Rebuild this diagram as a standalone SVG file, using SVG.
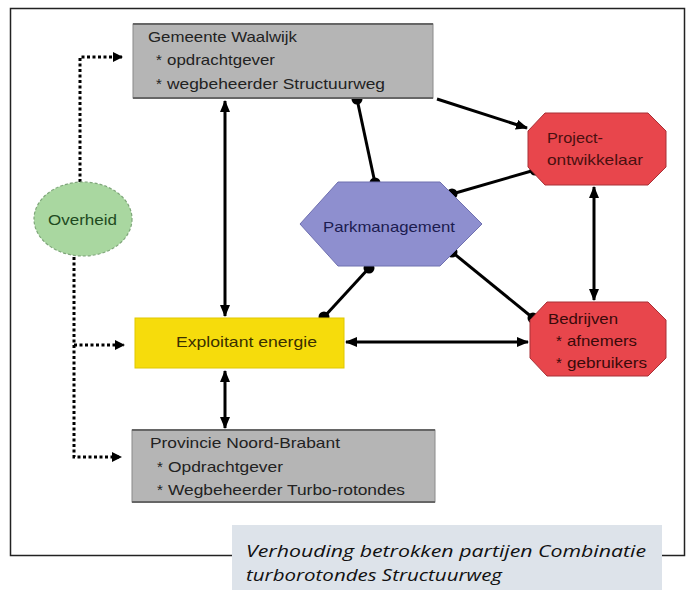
<svg xmlns="http://www.w3.org/2000/svg" width="689" height="593" viewBox="0 0 689 593">
<defs>
<style>
.t{font-family:"Liberation Sans",Arial,sans-serif;font-size:15px;fill:#222}
.ln{stroke:#000;stroke-width:3;fill:none}
.dot{stroke:#000;stroke-width:3;fill:none;stroke-dasharray:3 2.5}
.cap{font-family:"Open Sans","Noto Sans",sans-serif;font-style:italic;font-size:17px;fill:#111}
</style>
<marker id="ah" viewBox="0 0 12 10" refX="11" refY="5" markerWidth="12" markerHeight="10" markerUnits="userSpaceOnUse" orient="auto-start-reverse">
<path d="M0,0 L12,5 L0,10 Z" fill="#000"/>
</marker>
<marker id="ahs" viewBox="0 0 10 10" refX="9" refY="5" markerWidth="10" markerHeight="10" markerUnits="userSpaceOnUse" orient="auto">
<path d="M0,0 L10,5 L0,10 Z" fill="#000"/>
</marker>
<marker id="bd" viewBox="0 0 12 12" refX="6" refY="6" markerWidth="12" markerHeight="12" markerUnits="userSpaceOnUse">
<circle cx="6" cy="6" r="5.5" fill="#000"/>
</marker>
</defs>
<rect x="0" y="0" width="689" height="593" fill="#fff"/>
<rect x="10.5" y="8.5" width="674" height="547" fill="none" stroke="#222" stroke-width="1.5"/>

<g id="connectors">
<polyline class="dot" points="80,182 80,57 122,57" marker-end="url(#ahs)"/>
<polyline class="dot" points="74,257 74,457 121,457" marker-end="url(#ahs)"/>
<line class="dot" x1="74" y1="345" x2="124" y2="345" marker-end="url(#ahs)"/>
<line class="ln" x1="225" y1="101" x2="225" y2="316" marker-start="url(#ah)" marker-end="url(#ah)"/>
<line class="ln" x1="225" y1="371" x2="225" y2="428" marker-start="url(#ah)" marker-end="url(#ah)"/>
<line class="ln" x1="437" y1="99" x2="527" y2="128" marker-end="url(#ah)"/>
<line class="ln" x1="594" y1="187" x2="594" y2="300" marker-start="url(#ah)" marker-end="url(#ah)"/>
<line class="ln" x1="346" y1="342" x2="528" y2="342" marker-start="url(#ah)" marker-end="url(#ah)"/>
<line class="ln" x1="357" y1="99" x2="375" y2="183" marker-start="url(#bd)" marker-end="url(#bd)"/>
<line class="ln" x1="452" y1="194" x2="535" y2="170" marker-start="url(#bd)" marker-end="url(#bd)"/>
<line class="ln" x1="369" y1="268" x2="324" y2="317" marker-start="url(#bd)" marker-end="url(#bd)"/>
<line class="ln" x1="452" y1="252" x2="533" y2="318" marker-start="url(#bd)" marker-end="url(#bd)"/>
</g>

<g id="gemeente">
<rect x="133" y="24" width="300" height="74" fill="#b5b5b5" stroke="#8a8a8a" stroke-width="1"/>
<line x1="133" y1="24" x2="433" y2="24" stroke="#666" stroke-width="2"/>
<line x1="133" y1="98" x2="433" y2="98" stroke="#666" stroke-width="2"/>
<text class="t" x="148" y="42" textLength="149" lengthAdjust="spacingAndGlyphs">Gemeente Waalwijk</text>
<text class="t" x="156" y="65">*</text>
<text class="t" x="167" y="65" textLength="108" lengthAdjust="spacingAndGlyphs">opdrachtgever</text>
<text class="t" x="156" y="89">*</text>
<text class="t" x="167" y="89" textLength="218" lengthAdjust="spacingAndGlyphs">wegbeheerder Structuurweg</text>
</g>

<g id="overheid">
<ellipse cx="83" cy="219" rx="49" ry="37" fill="#a9d7a0" stroke="#7fa67a" stroke-width="1.2" stroke-dasharray="3 2"/>
<text class="t" x="48" y="225" textLength="69" lengthAdjust="spacingAndGlyphs" style="fill:#1e4a1e">Overheid</text>
</g>

<g id="parkmanagement">
<polygon points="338,182 440,182 482,224 440,266 338,266 300,224" fill="#8e8fcf" stroke="#6f70b0" stroke-width="1"/>
<text class="t" x="323" y="232" textLength="132" lengthAdjust="spacingAndGlyphs" style="fill:#1c1c50">Parkmanagement</text>
</g>

<g id="projectontwikkelaar">
<polygon points="545,113 648,113 666,131 666,167 648,185 545,185 528,167 528,131" fill="#e8464c" stroke="#a83036" stroke-width="1"/>
<text class="t" x="547" y="143" textLength="56" lengthAdjust="spacingAndGlyphs" style="fill:#4a1010">Project-</text>
<text class="t" x="547" y="165" textLength="96" lengthAdjust="spacingAndGlyphs" style="fill:#4a1010">ontwikkelaar</text>
</g>

<g id="exploitant">
<rect x="135" y="318" width="209" height="50" fill="#f6dc0c" stroke="#e0c800" stroke-width="1"/>
<text class="t" x="176" y="347" textLength="141" lengthAdjust="spacingAndGlyphs" style="fill:#3a3000">Exploitant energie</text>
</g>

<g id="bedrijven">
<polygon points="547,302 648,302 666,320 666,358 648,376 547,376 530,358 530,320" fill="#e8464c" stroke="#a83036" stroke-width="1"/>
<text class="t" x="548" y="324" textLength="70" lengthAdjust="spacingAndGlyphs" style="fill:#3a0a0a">Bedrijven</text>
<text class="t" x="556" y="346" style="fill:#3a0a0a">*</text>
<text class="t" x="567" y="346" textLength="70" lengthAdjust="spacingAndGlyphs" style="fill:#3a0a0a">afnemers</text>
<text class="t" x="556" y="368" style="fill:#3a0a0a">*</text>
<text class="t" x="567" y="368" textLength="80" lengthAdjust="spacingAndGlyphs" style="fill:#3a0a0a">gebruikers</text>
</g>

<g id="provincie">
<rect x="132" y="430" width="303" height="72" fill="#b5b5b5" stroke="#8a8a8a" stroke-width="1"/>
<line x1="132" y1="430" x2="435" y2="430" stroke="#666" stroke-width="2"/>
<line x1="132" y1="502" x2="435" y2="502" stroke="#666" stroke-width="2"/>
<text class="t" x="150" y="448" textLength="190" lengthAdjust="spacingAndGlyphs">Provincie Noord-Brabant</text>
<text class="t" x="157" y="472">*</text>
<text class="t" x="168" y="472" textLength="115" lengthAdjust="spacingAndGlyphs">Opdrachtgever</text>
<text class="t" x="157" y="495">*</text>
<text class="t" x="168" y="495" textLength="237" lengthAdjust="spacingAndGlyphs">Wegbeheerder Turbo-rotondes</text>
</g>

<g id="caption">
<rect x="232" y="525" width="430" height="65" fill="#dde3ea"/>
<text class="cap" x="246" y="557" textLength="400" lengthAdjust="spacingAndGlyphs">Verhouding betrokken partijen Combinatie</text>
<text class="cap" x="246" y="581" textLength="256" lengthAdjust="spacingAndGlyphs">turborotondes Structuurweg</text>
</g>
</svg>
